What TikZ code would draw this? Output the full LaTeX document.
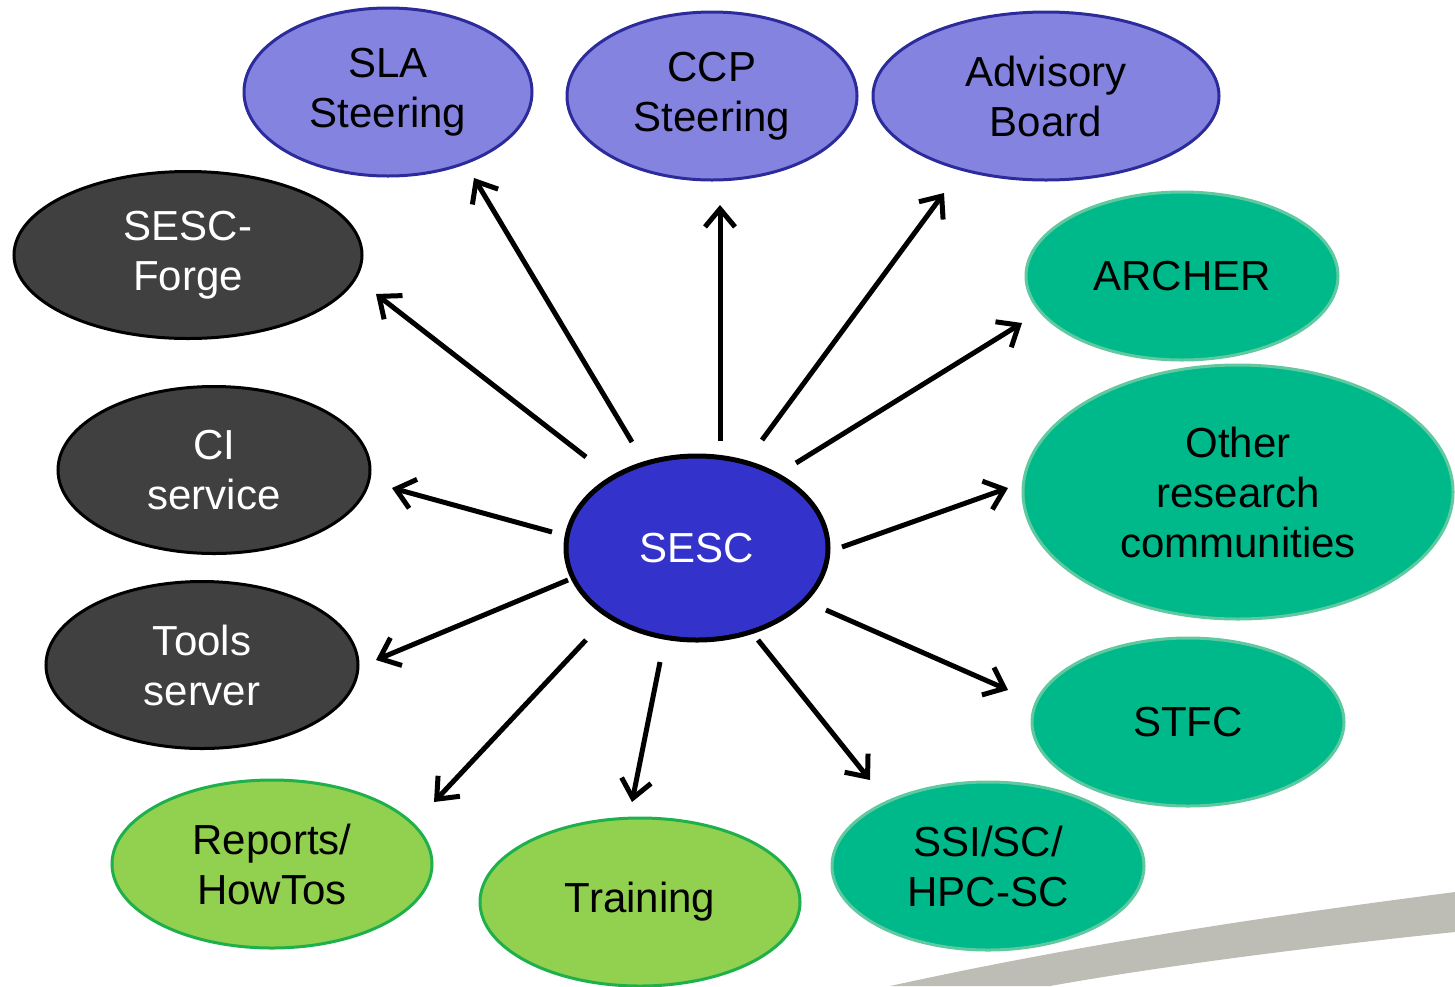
\documentclass[tikz,border=0pt]{standalone}
\usepackage{fontspec}
\setmainfont{Liberation Sans}
\usetikzlibrary{shapes.geometric,arrows.meta}
\definecolor{purfill}{HTML}{8484E0}
\definecolor{purline}{HTML}{2B2B9B}
\definecolor{darkfill}{HTML}{404040}
\definecolor{lgfill}{HTML}{92D050}
\definecolor{lgline}{HTML}{1DB04B}
\definecolor{tealfill}{HTML}{00B98B}
\definecolor{tealline}{HTML}{60C9A0}
\definecolor{sescfill}{HTML}{3333CC}
\definecolor{swoosh}{HTML}{BDBDB5}
\tikzset{
  bubble/.style={ellipse, inner sep=0pt, align=center, font=\fontsize{21pt}{25pt}\selectfont},
  purple/.style={bubble, fill=purfill, draw=purline, line width=1.5pt, text=black},
  dark/.style={bubble, fill=darkfill, draw=black, line width=1.5pt, text=white},
  lgreen/.style={bubble, fill=lgfill, draw=lgline, line width=1.5pt, text=black},
  teal/.style={bubble, fill=tealfill, draw=tealline, line width=1.5pt, text=black},
  hub/.style={bubble, fill=sescfill, draw=black, line width=2.5pt, text=white},
  link/.style={line width=2.5pt, -{Straight Barb[length=9pt,width=15pt]}},
}
\begin{document}
\begin{tikzpicture}[x=0.5pt,y=-0.5pt]
\useasboundingbox (0,0) rectangle (1455,986);
% swoosh
\fill[swoosh] (890,986) .. controls (1100,940) and (1300,912) .. (1455,892)
  -- (1455,932) .. controls (1300,948) and (1150,968) .. (1050,986) -- cycle;
% nodes
\node[purple, minimum width=288pt*0.5, minimum height=168pt*0.5] (sla) at (388,92) {SLA\\Steering};
\node[purple, minimum width=290pt*0.5, minimum height=168pt*0.5] (ccp) at (712,96) {CCP\\Steering};
\node[purple, minimum width=346pt*0.5, minimum height=168pt*0.5] (adv) at (1046,96) {Advisory\\Board};
\node[dark, minimum width=348pt*0.5, minimum height=167pt*0.5] (forge) at (188,255) {SESC-\\Forge};
\node[dark, minimum width=312pt*0.5, minimum height=167pt*0.5] (ci) at (214,470) {CI\\service};
\node[dark, minimum width=312pt*0.5, minimum height=167pt*0.5] (tools) at (202,665) {Tools\\server};
\node[lgreen, minimum width=320pt*0.5, minimum height=168pt*0.5] (rep) at (272,864) {Reports/\\HowTos};
\node[lgreen, minimum width=320pt*0.5, minimum height=168pt*0.5] (train) at (640,902) {Training};
\node[teal, minimum width=312pt*0.5, minimum height=168pt*0.5] (ssi) at (988,866) {SSI/SC/\\HPC-SC};
\node[teal, minimum width=312pt*0.5, minimum height=168pt*0.5] (stfc) at (1188,722) {STFC};
\node[teal, minimum width=430pt*0.5, minimum height=254pt*0.5] (other) at (1238,492) {Other\\research\\communities};
\node[teal, minimum width=312pt*0.5, minimum height=168pt*0.5] (archer) at (1182,276) {ARCHER};
\node[hub, minimum width=262pt*0.5, minimum height=184pt*0.5] (sesc) at (697,548) {SESC};
% arrow end points
\coordinate (s1) at (632,442); \coordinate (e1) at (474,178);
\coordinate (s2) at (720,441); \coordinate (e2) at (720,205);
\coordinate (s3) at (762,440); \coordinate (e3) at (944,193);
\coordinate (s4) at (796,463); \coordinate (e4) at (1022,323);
\coordinate (s5) at (842,547); \coordinate (e5) at (1008,488);
\coordinate (s6) at (826,610); \coordinate (e6) at (1008,690);
\coordinate (s7) at (758,640); \coordinate (e7) at (870,780);
\coordinate (s8) at (660,662); \coordinate (e8) at (632,802);
\coordinate (s9) at (586,640); \coordinate (e9) at (434,802);
\coordinate (s10) at (568,580); \coordinate (e10) at (376,660);
\coordinate (s11) at (552,532); \coordinate (e11) at (392,488);
\coordinate (s12) at (586,457); \coordinate (e12) at (376,294);
\foreach \i in {1,...,12} { \draw[link] (s\i) -- (e\i); }
\end{tikzpicture}
\end{document}
